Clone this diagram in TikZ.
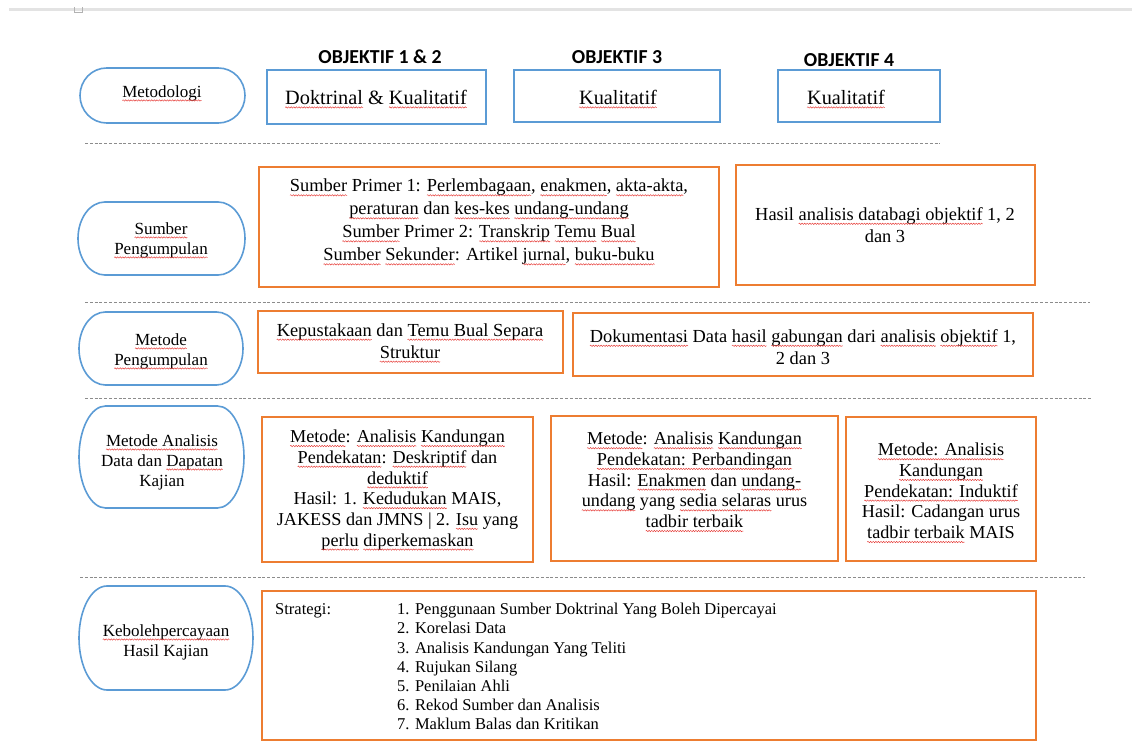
\documentclass[tikz,border=0pt]{standalone}
\usepackage{fontspec}
\setmainfont{Liberation Serif}
\newfontfamily\headfont{Carlito}
\usetikzlibrary{decorations.pathmorphing}

\definecolor{accblue}{HTML}{5B9BD5}
\definecolor{accorange}{HTML}{ED7D31}
\definecolor{sqred}{HTML}{E53935}
\definecolor{sepgray}{HTML}{8C8C8C}

\tikzset{
  sqwave/.style={draw=sqred, line width=0.45pt, decorate,
    decoration={snake, amplitude=0.7pt, segment length=2.6pt}},
}
% red wavy underline for flagged words
\newsavebox\sqbox
\newlength\sqwd
\newcommand\sq[1]{\sbox\sqbox{#1}\setlength\sqwd{\wd\sqbox}%
  \rlap{\usebox\sqbox}%
  \tikz[baseline=0pt]{\useasboundingbox (0pt,0pt) rectangle (\sqwd,1pt);
    \draw[sqwave] (0pt,-3.4pt) -- (\sqwd,-3.4pt);}}

% flowchart terminator outline: x1, y1, x2, y2 (y measured downward)
\newcommand\termshape[4]{%
  \pgfmathsetmacro\trx{0.161*(#3-#1)}%
  \pgfmathsetmacro\try{(#4-#2)/2}%
  \draw[termline] ({#1+\trx},-#2) -- ({#3-\trx},-#2)
    arc[start angle=90,end angle=-90,x radius=\trx pt,y radius=\try pt]
    -- ({#1+\trx},-#4)
    arc[start angle=270,end angle=90,x radius=\trx pt,y radius=\try pt] -- cycle;
}
% rectangular frame node: style, name, x1, y1, x2, y2
\newcommand\frameat[6]{%
  \node[#1, minimum width={(#5-#3)*1pt}, minimum height={(#6-#4)*1pt}]
    (#2) at ({(#3+#5)/2},{-(#4+#6)/2}) {};
}

\tikzset{
  frame/.style={rectangle, inner sep=0pt, outer sep=0pt},
  bluebox/.style={frame, draw=accblue, line width=1.6pt},
  orangebox/.style={frame, draw=accorange, line width=1.8pt},
  termline/.style={draw=accblue, line width=1.6pt},
  sepline/.style={draw=sepgray, line width=0.7pt, dash pattern=on 3pt off 1.8pt},
  head/.style={inner sep=0pt, font=\headfont\bfseries\fontsize{19.8}{22}\selectfont},
  bigtext/.style={inner sep=0pt, align=center, font=\fontsize{20.3}{24}\selectfont},
  termtext/.style={inner sep=0pt, align=center, font=\fontsize{17}{20}\selectfont},
  srctext/.style={inner sep=0pt, align=center, font=\fontsize{18.4}{23}\selectfont},
  coltext/.style={inner sep=0pt, align=center, font=\fontsize{18.4}{22}\selectfont},
  anltext/.style={inner sep=0pt, align=center, font=\fontsize{18.2}{20.7}\selectfont},
  listtext/.style={inner sep=0pt, align=left, font=\fontsize{16.5}{19.2}\selectfont},
}

\begin{document}
\begin{tikzpicture}[x=1pt,y=1pt]
\useasboundingbox (0,0) rectangle (1132,-746);

% page ruler strip
\draw[gray!22, line width=3pt] (9,-10) -- (1132,-10);
\draw[gray!60, line width=0.8pt] (74,-7) -- (74,-12) -- (82,-12) -- (82,-7);

% column headings
\node[head] (h12) at (380,-57) {OBJEKTIF 1 \& 2};
\node[head] (h3)  at (617,-57) {OBJEKTIF 3};
\node[head] (h4)  at (849,-60) {OBJEKTIF 4};

% row 1: methodology
\termshape{80}{68}{245}{123}
\node[termtext] (r1) at (162,-93) {\sq{Metodologi}};
\frameat{bluebox}{b11}{267}{70}{486}{124}
\node[bigtext] (t11) at (376,-97) {\sq{Doktrinal} \& \sq{Kualitatif}};
\frameat{bluebox}{b12}{514}{70}{720}{122}
\node[bigtext] (t12) at (618,-97) {\sq{Kualitatif}};
\frameat{bluebox}{b13}{778}{70}{940}{122}
\node[bigtext] (t13) at (846,-97) {\sq{Kualitatif}};

\draw[sepline] (85,-143) -- (940,-143);

% row 2: sources
\termshape{78}{202}{245}{275}
\node[termtext] (r2) at (161,-240) {\sq{Sumber}\\\sq{Pengumpulan}};
\frameat{orangebox}{b21}{259}{167}{719}{287}
\node[srctext] (t21) at (489,-222) {\sq{Sumber} Primer 1: \sq{Perlembagaan}, \sq{enakmen}, \sq{akta-akta},\\
  \sq{peraturan} dan \sq{kes-kes} \sq{undang-undang}\\
  \sq{Sumber} Primer 2: \sq{Transkrip} \sq{Temu} \sq{Bual}\\
  \sq{Sumber} \sq{Sekunder}: Artikel \sq{jurnal}, \sq{buku-buku}};
\frameat{orangebox}{b22}{736}{165}{1035}{285}
\node[coltext] (t22) at (885,-225) {Hasil \sq{analisis databagi objektif} 1, 2\\dan 3};

\draw[sepline] (85,-302) -- (1090,-302);

% row 3: collection methods
\termshape{79}{312}{243}{385}
\node[termtext] (r3) at (161,-351) {\sq{Metode}\\\sq{Pengumpulan}};
\frameat{orangebox}{b31}{258}{311}{563}{373}
\node[coltext] (t31) at (410,-341) {\sq{Kepustakaan} dan \sq{Temu Bual Separa}\\\sq{Struktur}};
\frameat{orangebox}{b32}{573}{313}{1033}{376}
\node[coltext] (t32) at (803,-347) {\sq{Dokumentasi} Data \sq{hasil} \sq{gabungan} dari \sq{analisis} \sq{objektif} 1,\\2 dan 3};

\draw[sepline] (85,-398) -- (1092,-398);

% row 4: analysis and findings
\termshape{79}{406}{244}{508}
\node[termtext] (r4) at (162,-462) {\sq{Metode Analisis}\\Data dan \sq{Dapatan}\\Kajian};
\frameat{orangebox}{b41}{262}{417}{533}{562}
\node[anltext] (t41) at (397.5,-490) {\sq{Metode}: \sq{Analisis} \sq{Kandungan}\\
  \sq{Pendekatan}: \sq{Deskriptif} dan\\
  \sq{deduktif}\\
  Hasil: 1. \sq{Kedudukan} MAIS,\\
  JAKESS dan JMNS | 2. \sq{Isu} yang\\
  \sq{perlu} \sq{diperkemaskan}};
\frameat{orangebox}{b42}{551}{416}{838}{561}
\node[anltext] (t42) at (694.5,-480) {\sq{Metode}: \sq{Analisis} \sq{Kandungan}\\
  \sq{Pendekatan: Perbandingan}\\
  Hasil: \sq{Enakmen} dan \sq{undang-}\\
  \sq{undang} yang \sq{sedia selaras} urus\\
  \sq{tadbir terbaik}};
\frameat{orangebox}{b43}{846}{417}{1036}{561}
\node[anltext] (t43) at (941,-491) {\sq{Metode: Analisis}\\
  \sq{Kandungan}\\
  \sq{Pendekatan: Induktif}\\
  Hasil: Cadangan urus\\
  \sq{tadbir terbaik} MAIS};

\draw[sepline] (80,-577) -- (1085,-577);

% row 5: trustworthiness
\termshape{79}{586}{253}{690}
\node[termtext] (r5) at (166,-642) {\sq{Kebolehpercayaan}\\Hasil Kajian};
\frameat{orangebox}{b51}{262}{591}{1036}{740}
\node[listtext, anchor=north west] (s5) at (275,-603) {Strategi:};
\node[listtext, anchor=north west] (l5) at (397,-603) {1. Penggunaan Sumber Doktrinal Yang Boleh Dipercayai\\
  2. Korelasi Data\\
  3. Analisis Kandungan Yang Teliti\\
  4. Rujukan Silang\\
  5. Penilaian Ahli\\
  6. Rekod Sumber dan Analisis\\
  7. Maklum Balas dan Kritikan};
\end{tikzpicture}
\end{document}
